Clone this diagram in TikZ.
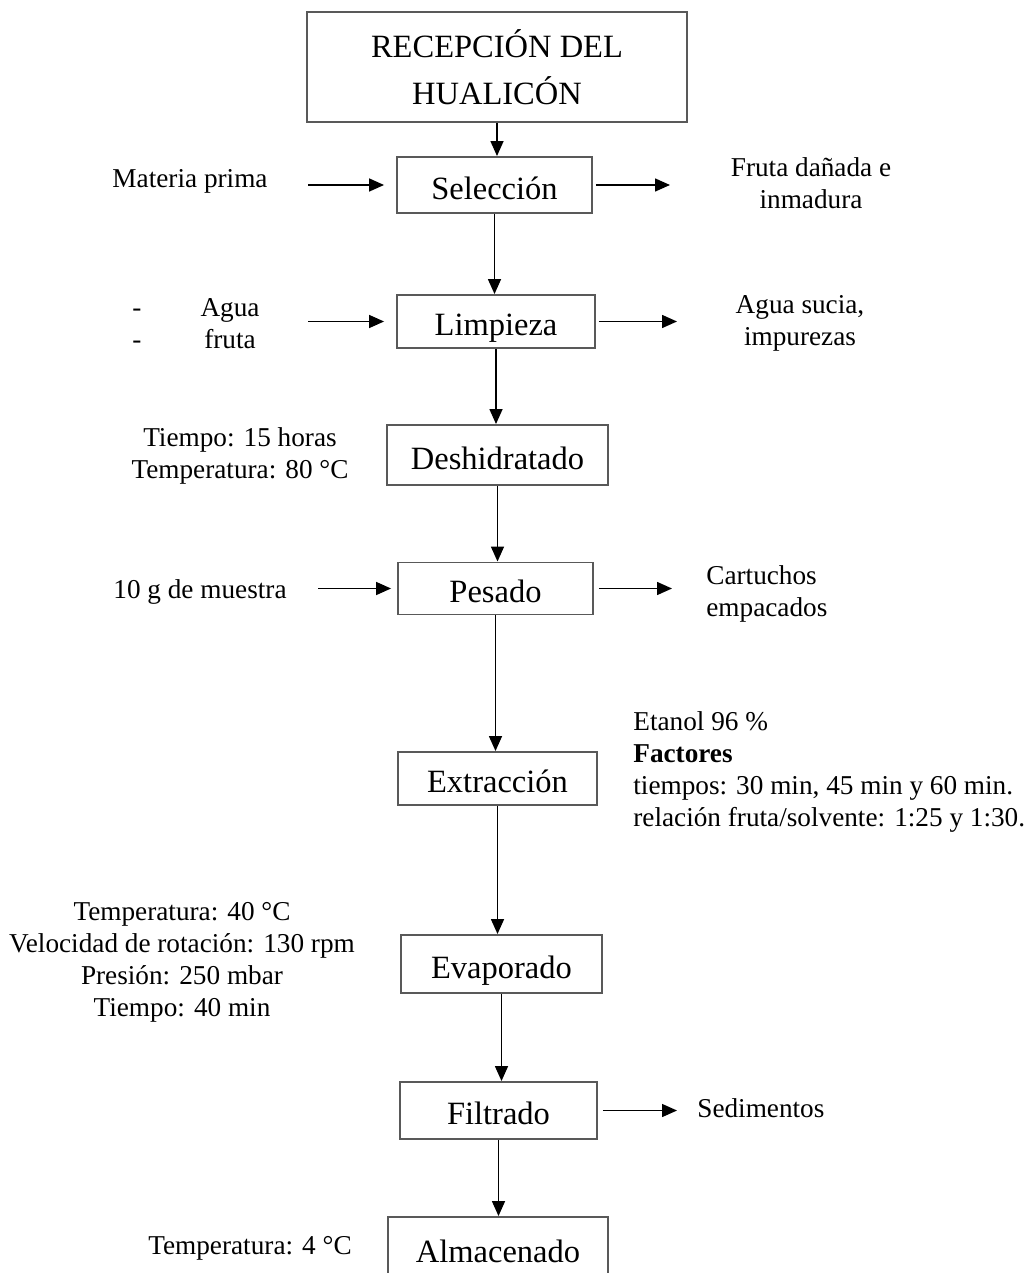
\documentclass[tikz,border=0pt]{standalone}
\usepackage{fontspec}
\setmainfont{Liberation Serif}
\usetikzlibrary{positioning,arrows.meta,calc}
\tikzset{
    x=0.02cm,
    y=-0.02cm,
    >={Triangle[length=3mm,width=2.6mm]},
    block/.style = {
        draw=black!65,
        shape=rectangle,
        line width=1.1pt,
        inner sep=0pt,
        text height=16.4pt,
        text depth=0pt,
        font=\fontsize{18.5}{21}\selectfont
    },
    note/.style = {
        shape=rectangle,
        inner sep=0pt,
        font=\fontsize{15.5}{18.2}\selectfont
    },
    flow/.style = {
        draw,
        line width=0.85pt,
        ->
    },
}
\begin{document}
\begin{tikzpicture}
                \clip (0,0) rectangle (1026,1273);

                % process boxes
                \node[block, text height=, text depth=, minimum width=7.6cm, minimum height=2.2cm, align=center, font=\fontsize{18.5}{26.7}\selectfont] (rec) at (497,67) {RECEPCIÓN DEL\\HUALICÓN};
                \node[block, minimum width=3.9cm, minimum height=1.12cm] (sel) at (494.5,185) {Selección};
                \node[block, minimum width=3.96cm, minimum height=1.06cm] (limp) at (496,321.5) {Limpieza};
                \node[block, minimum width=4.42cm, minimum height=1.2cm] (desh) at (497.5,455) {Deshidratado};
                \node[block, minimum width=3.9cm, minimum height=1.04cm] (pes) at (495.5,588.5) {Pesado};
                \node[block, minimum width=3.98cm, minimum height=1.06cm] (ext) at (497.5,778.5) {Extracción};
                \node[block, minimum width=4.02cm, minimum height=1.16cm] (evap) at (501.5,964) {Evaporado};
                \node[block, minimum width=3.94cm, minimum height=1.14cm] (filt) at (498.5,1110.5) {Filtrado};
                \node[block, minimum width=4.4cm, minimum height=1.24cm] (alm) at (498,1248) {Almacenado};

                % side notes
                \node[note] (mp) at (190,181) {Materia prima};
                \node[note, align=center] (fd) at (811,183) {Fruta dañada e\\inmadura};
                \node[note] (aguafruta) at (196,326) {\begin{tabular}{@{}c@{\hspace{1.18cm}}c@{}}-&Agua\\-&fruta\end{tabular}};
                \node[note, align=center] (sucia) at (800,323) {Agua sucia,\\impurezas};
                \node[note, align=center] (tiempo) at (240,456) {Tiempo: 15 horas\\Temperatura: 80 °C};
                \node[note] (muestra) at (200,592) {10 g de muestra};
                \node[note, align=left, anchor=west] (cart) at (706,594) {Cartuchos\\empacados};
                \node[note, align=left, anchor=west] (etanol) at (633,772) {Etanol 96 \%\\\textbf{Factores}\\tiempos: 30 min, 45 min y 60 min.\\relación fruta/solvente: 1:25 y 1:30.};
                \node[note, align=center] (rota) at (182,962) {Temperatura: 40 °C\\Velocidad de rotación: 130 rpm\\Presión: 250 mbar\\Tiempo: 40 min};
                \node[note, anchor=west] (sed) at (697,1108) {Sedimentos};
                \node[note] (frio) at (250,1248) {Temperatura: 4 °C};

                % free ends of the side arrows
                \coordinate (mpin) at (308,185);
                \coordinate (fdout) at (670,185);
                \coordinate (aguain) at (308,321.5);
                \coordinate (suciaout) at (677,321.5);
                \coordinate (muestrain) at (318,588.5);
                \coordinate (cartout) at (672,588.5);
                \coordinate (sedout) at (677,1110.5);

                % main line
                \path[flow] (rec) -- (rec |- sel.north);
                \path[flow] (sel) -- (sel |- limp.north);
                \path[flow] (limp) -- (limp |- desh.north);
                \path[flow] (desh) -- (desh |- pes.north);
                \path[flow] (pes) -- (pes |- ext.north);
                \path[flow] (ext) -- (ext |- evap.north);
                \path[flow] (evap) -- (evap |- filt.north);
                \path[flow] (filt) -- (filt |- alm.north);

                % inputs and outputs
                \path[flow, shorten >=0.24cm] (mpin) -- (sel.west);
                \path[flow, shorten <=0.06cm] (sel.east) -- (fdout);
                \path[flow, shorten >=0.24cm] (aguain) -- (limp.west);
                \path[flow, shorten <=0.06cm] (limp.east) -- (suciaout);
                \path[flow, shorten >=0.12cm] (muestrain) -- (pes.west);
                \path[flow, shorten <=0.1cm] (pes.east) -- (cartout);
                \path[flow, shorten <=0.1cm] (filt.east) -- (sedout);
            \end{tikzpicture}
\end{document}
